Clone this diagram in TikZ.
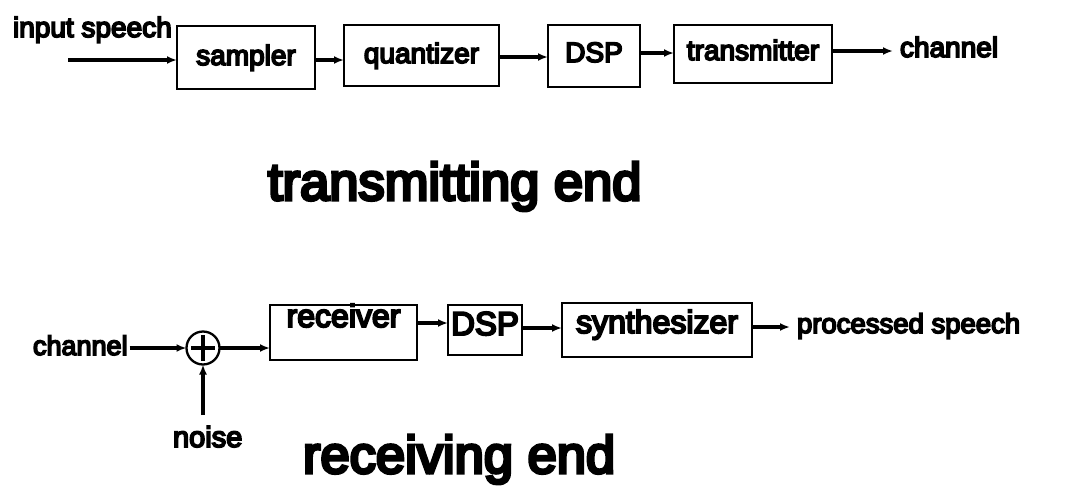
\documentclass[tikz,border=0pt]{standalone}
\usepackage{fontspec}
\setmainfont{Liberation Sans}[FakeBold=6]
\usetikzlibrary{arrows.meta}
\begin{document}
\begin{tikzpicture}[x=1pt,y=-1pt,
  box/.style={draw,line width=2.3pt,inner xsep=0pt,inner ysep=0pt,outer sep=0pt,anchor=base},
  lbl/.style={inner sep=0pt,outer sep=0pt,anchor=base west},
  arr/.style={line width=3.4pt,-{Latex[length=10pt,width=8pt]}},
  fa/.style={font=\fontsize{28}{30}\selectfont},
  fb/.style={font=\fontsize{32}{34}\selectfont},
  fc/.style={font=\fontsize{27.5}{30}\selectfont},
  ft/.style={font=\fontsize{52.5}{56}\selectfont}]
\useasboundingbox (0,0) rectangle (1069,485);
% top row
\node[box,fa,minimum width=138pt,text height=39pt,text depth=24pt] (samp) at (246,65) {sampler};
\node[box,fa,minimum width=155pt,text height=38pt,text depth=23pt] (quant) at (421.5,63) {quantizer};
\node[box,fa,minimum width=92pt,text height=37pt,text depth=25pt] (dspa) at (594,62) {DSP};
\node[box,fa,minimum width=158pt,text height=35pt,text depth=23pt] (trans) at (753,60) {transmitter};
\node[lbl,fa] (inp) at (13,37) {input speech};
\node[lbl,fa] (cha) at (900,57) {channel};
\node[lbl,ft] (tend) at (268,200) {transmitting end};
\coordinate (inS) at (68,60);
\coordinate (ya) at (0,60);
\coordinate (yb) at (0,57);
\coordinate (yc) at (0,53);
\coordinate (yd) at (0,51);
\draw[arr] (inS) -- (samp.west |- inS);
\draw[arr] (samp.east |- ya) -- (quant.west |- ya);
\draw[arr] (quant.east |- yb) -- (dspa.west |- yb);
\draw[arr] (dspa.east |- yc) -- (trans.west |- yc);
\draw[arr,shorten >=7pt] (trans.east |- yd) -- (cha.west |- yd);
% bottom row
\node[box,fb,minimum width=147pt,text height=22pt,text depth=33pt] (recv) at (343.5,327) {receiver};
\node[box,font=\fontsize{33}{35}\selectfont,minimum width=74pt,text height=30pt,text depth=20pt] (dspb) at (485,335) {DSP};
\node[box,fb,minimum width=190pt,text height=30pt,text depth=24pt] (synth) at (657,333) {synthesizer};
\node[draw,circle,line width=2.3pt,minimum size=33pt,inner sep=0pt,outer sep=0pt] (sum) at (203,348) {};
\draw[line width=3.6pt] ([xshift=-12pt]sum.center) -- ([xshift=12pt]sum.center);
\draw[line width=3.6pt] ([yshift=-13pt]sum.center) -- ([yshift=13pt]sum.center);
\node[lbl,font=\fontsize{27}{30}\selectfont] (chb) at (33,355) {channel};
\node[lbl,fc] (proc) at (797,333) {processed speech};
\node[lbl,font=\fontsize{29}{31}\selectfont] (noise) at (173,447) {noise};
\node[lbl,ft] (rend) at (303,473) {receiving end};
\coordinate (ye) at (0,323);
\coordinate (yf) at (0,328);
\coordinate (yg) at (0,327);
\coordinate (nz) at (203,415);
\draw[arr,shorten <=2pt] (chb.east |- sum.west) -- (sum.west);
\draw[arr] (sum.east) -- (recv.west |- sum.east);
\draw[arr] (recv.east |- ye) -- (dspb.west |- ye);
\draw[arr] (dspb.east |- yf) -- (synth.west |- yf);
\draw[arr,shorten >=7pt] (synth.east |- yg) -- (proc.west |- yg);
\draw[arr] (nz) -- (sum.south);
\end{tikzpicture}
\end{document}
